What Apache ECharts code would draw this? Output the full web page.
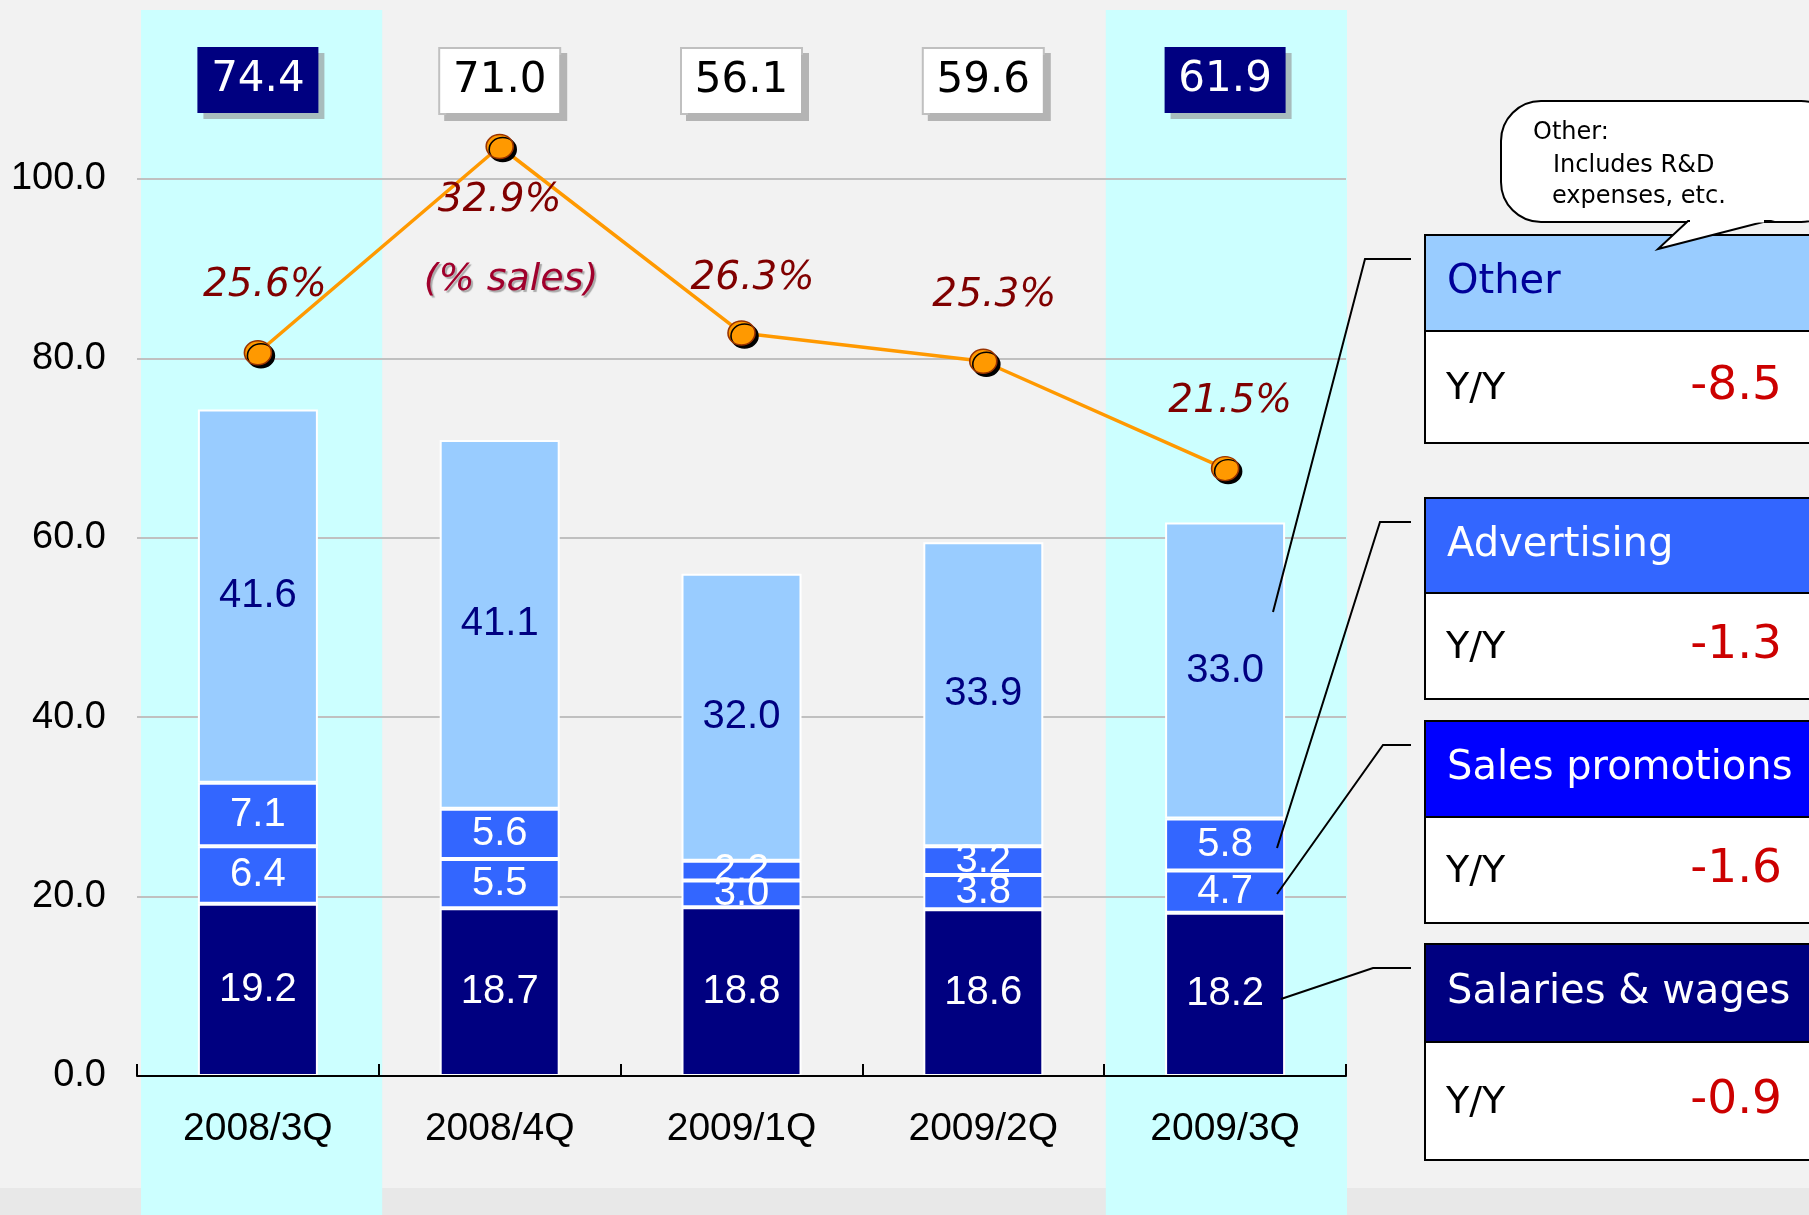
<!DOCTYPE html>
<html>
<head>
<meta charset="utf-8">
<title>SG&A expenses</title>
<script src="https://cdn.jsdelivr.net/npm/echarts@6/dist/echarts.min.js"></script>
<style>
html, body { margin: 0; padding: 0; }
#cost {
    width: 1809px;
    height: 1215px;
    background: linear-gradient(to bottom, #f2f2f2 1188px, #e8e8e8 1188px);
}
</style>
</head>
<body>
<div id="cost"></div>
<script>
var quarters = ['2008/3Q', '2008/4Q', '2009/1Q', '2009/2Q', '2009/3Q'];
var salaries = [19.2, 18.7, 18.8, 18.6, 18.2];
var promotions = [6.4, 5.5, 3.0, 3.8, 4.7];
var advertising = [7.1, 5.6, 2.2, 3.2, 5.8];
var other = [41.6, 41.1, 32.0, 33.9, 33.0];
var totals = [74.4, 71.0, 56.1, 59.6, 61.9];
var salesRatio = [25.6, 32.9, 26.3, 25.3, 21.5];
var compared = ['2008/3Q', '2009/3Q'];

var panelNames = ['Other', 'Advertising', 'Sales promotions', 'Salaries & wages'];
var panelYoY = [-8.5, -1.3, -1.6, -0.9];

// where each % label sits relative to its point
var ratioLabelOffset = [[7, -67], [0, 54], [11, -54], [11, -65], [5, -67]];

// right hand panels, pixel layout
var panelLayout = [
    { top: 235, mid: 331, bottom: 443, fill: '#99ccff', color: '#000099', leader: [[1273, 612], [1365, 259], [1411, 259]] },
    { top: 498, mid: 593, bottom: 699, fill: '#3366ff', color: '#ffffff', leader: [[1277, 848], [1380, 522], [1411, 522]] },
    { top: 721, mid: 817, bottom: 923, fill: '#0000ff', color: '#ffffff', leader: [[1277, 894], [1383, 745], [1411, 745]] },
    { top: 944, mid: 1042, bottom: 1160, fill: '#000080', color: '#ffffff', leader: [[1281, 999], [1373, 968], [1411, 968]] }
];

var chartDom = document.getElementById('cost');
var costChart = echarts.init(chartDom);
var option;

var bandColors = quarters.map(function (q) {
    return compared.indexOf(q) >= 0 ? '#ccffff' : 'rgba(0,0,0,0)';
});

function segment(name, values, color, labelColor) {
    return {
        name: name,
        type: 'bar',
        stack: 'cost',
        barWidth: 120,
        z: 2,
        data: values,
        itemStyle: { color: color, borderColor: '#ffffff', borderWidth: 2 },
        label: {
            show: true,
            position: 'inside',
            color: labelColor,
            fontFamily: 'Liberation Sans',
            fontSize: 40,
            formatter: function (p) { return p.value.toFixed(1); }
        }
    };
}

var graphics = [];
panelLayout.forEach(function (p, i) {
    graphics.push({
        type: 'polyline',
        z: 20,
        shape: { points: p.leader },
        style: { stroke: '#000', lineWidth: 2, fill: null }
    });
    graphics.push({
        type: 'rect',
        shape: { x: 1425, y: p.top, width: 420, height: p.mid - p.top },
        style: { fill: p.fill, stroke: '#000', lineWidth: 2 }
    });
    graphics.push({
        type: 'rect',
        shape: { x: 1425, y: p.mid, width: 420, height: p.bottom - p.mid },
        style: { fill: '#ffffff', stroke: '#000', lineWidth: 2 }
    });
    graphics.push({
        type: 'text',
        x: 1447,
        y: (p.top + p.mid) / 2,
        style: {
            text: panelNames[i], fill: p.color, font: '40px "DejaVu Sans"',
            verticalAlign: 'middle', textVerticalAlign: 'middle'
        }
    });
    graphics.push({
        type: 'text',
        x: 1446,
        y: (p.mid + p.bottom) / 2 + 2,
        style: {
            text: 'Y/Y', fill: '#000', font: '38px "DejaVu Sans"',
            verticalAlign: 'middle', textVerticalAlign: 'middle'
        }
    });
    graphics.push({
        type: 'text',
        x: 1782,
        y: (p.mid + p.bottom) / 2,
        style: {
            text: panelYoY[i].toFixed(1), fill: '#cc0000', font: '47px "DejaVu Sans"',
            align: 'right', textAlign: 'right', verticalAlign: 'middle', textVerticalAlign: 'middle'
        }
    });
});

// speech bubble over the "Other" panel
graphics.push({
    type: 'rect',
    shape: { x: 1501, y: 101, width: 340, height: 121, r: [40, 40, 40, 40] },
    style: { fill: '#ffffff', stroke: '#000', lineWidth: 2 }
});
graphics.push({
    type: 'polygon',
    shape: { points: [[1688, 221], [1658, 249], [1767, 221]] },
    style: { fill: '#ffffff', stroke: '#000', lineWidth: 2 }
});
graphics.push({
    type: 'rect',
    shape: { x: 1690, y: 218, width: 74, height: 4.5 },
    style: { fill: '#ffffff' }
});
[['Other:', 1533, 133], ['Includes R&D', 1553, 166], ['expenses, etc.', 1552, 197]].forEach(function (t) {
    graphics.push({
        type: 'text',
        x: t[1],
        y: t[2],
        style: {
            text: t[0], fill: '#000', font: '24px "DejaVu Sans"',
            verticalAlign: 'middle', textVerticalAlign: 'middle'
        }
    });
});
graphics.push({
    type: 'text',
    x: 511,
    y: 280,
    style: {
        text: '(% sales)', fill: '#a0002c', font: 'italic 38px "DejaVu Sans"',
        align: 'center', textAlign: 'center', verticalAlign: 'middle', textVerticalAlign: 'middle',
        textShadowColor: 'rgba(120,120,120,0.6)', textShadowOffsetX: 2, textShadowOffsetY: 2, textShadowBlur: 1
    }
});

option = {
    animation: false,
    grid: [
        { left: 137, right: 463, top: 179, bottom: 139 },
        { left: 141, right: 462, top: 10, bottom: 0 }
    ],
    xAxis: [
        {
            type: 'category',
            gridIndex: 0,
            data: quarters,
            z: 3,
            axisLine: { show: true, lineStyle: { color: '#000', width: 2 } },
            axisTick: { show: true, alignWithLabel: false, interval: 0, inside: true, length: 12, lineStyle: { color: '#000', width: 2 } },
            axisLabel: { color: '#000', fontFamily: 'Liberation Sans', fontSize: 39, margin: 34, interval: 0 }
        },
        {
            type: 'category',
            gridIndex: 0,
            position: 'top',
            data: totals.map(function (v) { return v.toFixed(1); }),
            axisLine: { show: false },
            axisTick: { show: false },
            axisLabel: {
                margin: 66,
                interval: 0,
                formatter: function (v, i) {
                    return (compared.indexOf(quarters[i]) >= 0 ? '{d|' : '{w|') + v + '}';
                },
                rich: {
                    d: {
                        backgroundColor: '#000080', color: '#ffffff', width: 121, height: 66, lineHeight: 66,
                        align: 'center', fontFamily: 'DejaVu Sans', fontSize: 42,
                        shadowColor: '#a8bcbc', shadowOffsetX: 6, shadowOffsetY: 6
                    },
                    w: {
                        backgroundColor: '#ffffff', borderColor: '#c0c0c0', borderWidth: 2, color: '#000000',
                        width: 119, height: 64, lineHeight: 64,
                        align: 'center', fontFamily: 'DejaVu Sans', fontSize: 42,
                        shadowColor: '#b4b4b4', shadowOffsetX: 6, shadowOffsetY: 6
                    }
                }
            }
        },
        {
            type: 'category',
            gridIndex: 1,
            data: quarters,
            z: -1,
            axisLine: { show: false },
            axisTick: { show: false },
            axisLabel: { show: false },
            splitArea: { show: true, areaStyle: { color: bandColors } }
        }
    ],
    yAxis: [
        {
            type: 'value',
            gridIndex: 0,
            min: 0,
            max: 100,
            interval: 20,
            z: 1,
            axisLine: { show: false },
            axisTick: { show: false },
            axisLabel: {
                color: '#000', fontFamily: 'Liberation Sans', fontSize: 38, margin: 31,
                formatter: function (v) { return v.toFixed(1); }
            },
            splitLine: { lineStyle: { color: '#c0c0c0', width: 2 } }
        },
        { type: 'value', gridIndex: 0, min: 0, max: 31.75, show: false },
        { type: 'value', gridIndex: 1, show: false }
    ],
    series: [
        segment('Salaries & wages', salaries, '#000080', '#ffffff'),
        segment('Sales promotions', promotions, '#3366ff', '#ffffff'),
        segment('Advertising', advertising, '#3366ff', '#ffffff'),
        segment('Other', other, '#99ccff', '#000080'),
        {
            name: '% sales',
            type: 'line',
            yAxisIndex: 1,
            z: 5,
            clip: false,
            data: salesRatio.map(function (v, i) {
                return { value: v, label: { offset: ratioLabelOffset[i] } };
            }),
            symbol: 'circle',
            symbolSize: [27, 24],
            lineStyle: { color: '#ff9900', width: 3.5 },
            itemStyle: {
                color: '#ff9900', borderColor: '#993300', borderWidth: 1.5,
                shadowColor: '#000', shadowOffsetX: 3, shadowOffsetY: 3, shadowBlur: 0
            },
            label: {
                show: true,
                position: 'inside',
                color: '#800000',
                fontFamily: 'DejaVu Sans',
                fontStyle: 'italic',
                fontSize: 39,
                formatter: function (p) { return p.value.toFixed(1) + '%'; }
            }
        }
    ],
    graphic: { elements: graphics }
};

option && costChart.setOption(option);

window.addEventListener('resize', function () {
    costChart.resize();
});
</script>
</body>
</html>
